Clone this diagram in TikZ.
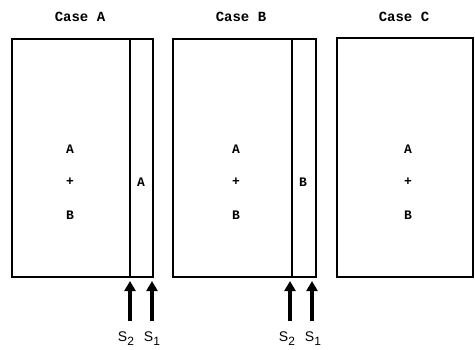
\documentclass[tikz,border=0pt]{standalone}
\usepackage{fontspec}
\setmonofont{Liberation Mono}
\setsansfont{Liberation Sans}
\usetikzlibrary{arrows.meta}
\newcommand{\ssub}[1]{\raisebox{-4pt}{\fontsize{12}{12}\selectfont #1}}
\begin{document}
\begin{tikzpicture}[x=1pt,y=-1pt,
  boxline/.style={line width=1.5pt},
  inner/.style={line width=1.3pt},
  lbl/.style={font=\ttfamily\bfseries\fontsize{13}{14}\selectfont, inner sep=0pt},
  ttl/.style={font=\ttfamily\bfseries\fontsize{14}{15}\selectfont, inner sep=0pt},
  slbl/.style={font=\sffamily\fontsize{14}{15}\selectfont, inner sep=0pt},
  flux/.style={line width=3.6pt, -{Triangle[length=10pt,width=11pt]}}]
\useasboundingbox (0,0) rectangle (475,349);
% titles
\node[ttl] (tA) at (80,17) {Case A};
\node[ttl] (tB) at (241,17) {Case B};
\node[ttl] (tC) at (404,17) {Case C};
% boxes
\draw[boxline] (12,39) rectangle (153,277);
\draw[inner] (130,39) -- (130,277);
\draw[boxline] (173,39) rectangle (316,277);
\draw[inner] (292,39) -- (292,277);
\draw[boxline] (337,38) rectangle (473,277);
% contents A
\node[lbl] (a1) at (70,149) {A};
\node[lbl] (a2) at (70,182) {+};
\node[lbl] (a3) at (70,215) {B};
\node[lbl] (a4) at (141,182) {A};
% contents B
\node[lbl] (b1) at (236,149) {A};
\node[lbl] (b2) at (236,182) {+};
\node[lbl] (b3) at (236,215) {B};
\node[lbl] (b4) at (303,182) {B};
% contents C
\node[lbl] (c1) at (408,149) {A};
\node[lbl] (c2) at (408,182) {+};
\node[lbl] (c3) at (408,215) {B};
% arrows
\coordinate (pA2) at (130,321); \coordinate (qA2) at (130,281);
\coordinate (pA1) at (152,321); \coordinate (qA1) at (152,281);
\coordinate (pB2) at (290,321); \coordinate (qB2) at (290,281);
\coordinate (pB1) at (312,321); \coordinate (qB1) at (312,281);
\draw[flux] (pA2) -- (qA2);
\draw[flux] (pA1) -- (qA1);
\draw[flux] (pB2) -- (qB2);
\draw[flux] (pB1) -- (qB1);
\node[slbl] (sA2) at (126,339) {S\ssub{2}};
\node[slbl] (sA1) at (152,339) {S\ssub{1}};
\node[slbl] (sB2) at (287,339) {S\ssub{2}};
\node[slbl] (sB1) at (313,339) {S\ssub{1}};
\end{tikzpicture}
\end{document}
